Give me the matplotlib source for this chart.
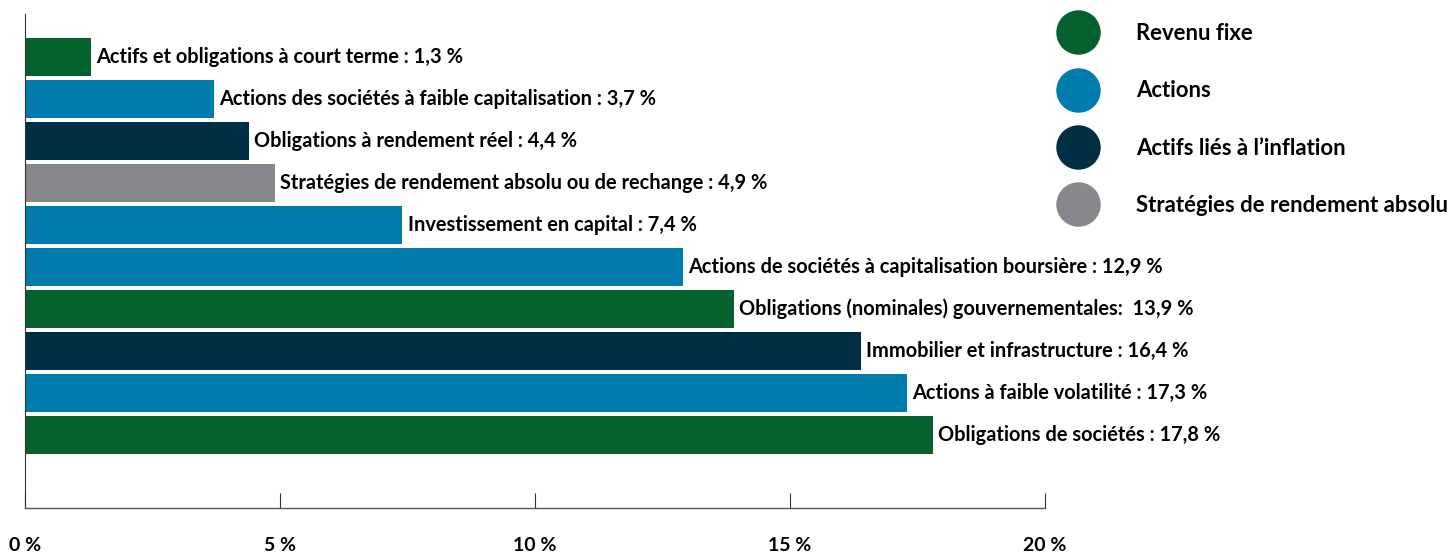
import matplotlib
matplotlib.use('Agg')
import matplotlib.pyplot as plt
from matplotlib.lines import Line2D

# asset mix, top to bottom as in the chart
names = ['Actifs et obligations à court terme',
         'Actions des sociétés à faible capitalisation',
         'Obligations à rendement réel',
         'Stratégies de rendement absolu ou de rechange',
         'Investissement en capital',
         'Actions de sociétés à capitalisation boursière',
         'Obligations (nominales) gouvernementales',
         'Immobilier et infrastructure',
         'Actions à faible volatilité',
         'Obligations de sociétés']
values = [1.3, 3.7, 4.4, 4.9, 7.4, 12.9, 13.9, 16.4, 17.3, 17.8]
groups = [0, 1, 2, 3, 1, 1, 0, 2, 1, 0]
seps = [' : '] * 6 + [':  '] + [' : '] * 3

group_names = ['Revenu fixe', 'Actions', 'Actifs liés à l\u2019inflation',
               'Stratégies de rendement absolu']
group_colors = ['#04602d', '#007bae', '#002f44', '#87888b']

xticks = [0, 5, 10, 15, 20]
xticklabels = ['0 %', '5 %', '10 %', '15 %', '20 %']

plt.rcParams['font.family'] = ['Lato', 'DejaVu Sans']

fig = plt.figure(figsize=(14.55, 5.54), dpi=100)
ax = fig.add_axes([25 / 1455, 46 / 554, 1020 / 1455, 494 / 554])

ypos = list(range(len(values)))
colors = [group_colors[g] for g in groups]
ax.barh(ypos, values, height=0.9, color=colors)

for i, v in enumerate(values):
    lbl = f'{names[i]}{seps[i]}{v:.1f} %'.replace('.', ',')
    ax.text(v + 0.1, i, lbl, va='center', ha='left', fontsize=14.4,
            fontweight='bold', color='black')

ax.set_xlim(0, 20)
ax.set_ylim(10.74, -1.02)
ax.set_yticks([])
ax.set_xticks(xticks)
ax.set_xticklabels(xticklabels, fontsize=14, fontweight='bold')
ax.tick_params(axis='x', direction='in', length=11, width=0.8,
               color='#333333', pad=21)
for s in ['top', 'right']:
    ax.spines[s].set_visible(False)
ax.spines['left'].set_color('#333333')
ax.spines['bottom'].set_color('#555555')
ax.spines['left'].set_linewidth(0.8)
ax.spines['bottom'].set_linewidth(1.0)

# legend: big dots at the top right
fs = 15.9
handles = [Line2D([], [], marker='o', linestyle='none', markersize=31,
                  markerfacecolor=c, markeredgecolor=c) for c in group_colors]
leg = fig.legend(handles, group_names, loc='upper left',
                 bbox_to_anchor=(1047 / 1455, 1 - 14 / 554), frameon=False,
                 prop={'size': fs, 'weight': 'bold'},
                 handlelength=2.0, handletextpad=1.62, labelspacing=1.65,
                 borderaxespad=0, borderpad=0.4)

fig.savefig('out.png', dpi=100)
